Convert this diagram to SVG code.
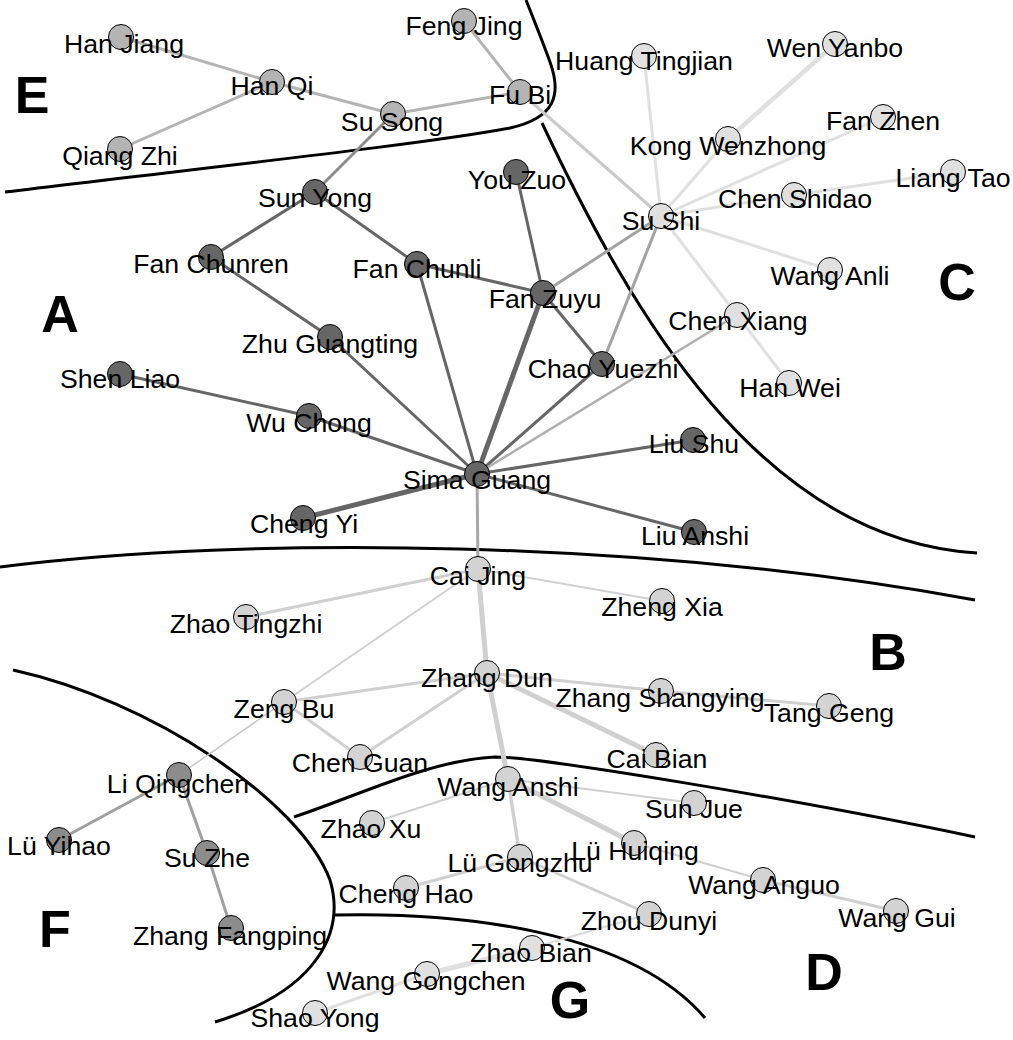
<svg xmlns="http://www.w3.org/2000/svg" width="1013" height="1040" viewBox="0 0 1013 1040">
<style>
text{font-family:"Liberation Sans",Arial,sans-serif;font-size:26.67px;fill:#000;text-anchor:middle}
.big{font-size:52px;font-weight:bold}
circle{stroke:#000;stroke-width:1}
.nA{fill:#666666}.nE{fill:#b4b4b4}.nC{fill:#e0e0e0}.nB{fill:#d3d3d3}.nF{fill:#8c8c8c}.nG{fill:#e0e0e0}
.bd{fill:none;stroke:#000;stroke-width:3}
#edges line{stroke-linecap:round}
.eA{stroke:#666666;stroke-width:3}.eE{stroke:#b4b4b4;stroke-width:3}.eC{stroke:#e0e0e0;stroke-width:3}
.eB{stroke:#d0d0d0;stroke-width:3}.eF{stroke:#a0a0a0;stroke-width:3}.eX{stroke:#a3a3a3;stroke-width:3}
.thick{stroke-width:5}.thin{stroke-width:2}
</style>
<rect width="1013" height="1040" fill="#fff"/>
<g id="boundaries">
<path class="bd" d="M5,192 C200,168 420,145 510,128 C555,118 562,95 550,62 C542,40 532,15 526,0"/>
<path class="bd" d="M542,123 C630,310 760,540 977,553"/>
<path class="bd" d="M0,567 C250,535 650,540 975,600"/>
<path class="bd" d="M13,670 C150,700 300,800 330,880 C345,930 320,990 215,1022"/>
<path class="bd" d="M294,817 C360,795 430,760 495,757 C540,757 800,800 975,837"/>
<path class="bd" d="M335,915 C460,912 630,930 705,1018"/>
</g>
<g id="regions">
<text class="big" x="32" y="113">E</text>
<text class="big" x="60" y="332">A</text>
<text class="big" x="957" y="300">C</text>
<text class="big" x="888" y="670">B</text>
<text class="big" x="824" y="990">D</text>
<text class="big" x="55" y="947">F</text>
<text class="big" x="570" y="1018">G</text>
</g>
<g id="edges">
<line class="eE" x1="121" y1="37" x2="272" y2="82"/>
<line class="eE" x1="120" y1="149" x2="272" y2="82"/>
<line class="eE" x1="272" y1="82" x2="393" y2="114"/>
<line class="eE" x1="393" y1="114" x2="520" y2="92"/>
<line class="eE" x1="464" y1="21" x2="520" y2="92"/>
<line style="stroke:#8c8c8c;stroke-width:3" x1="393" y1="114" x2="315" y2="192"/>
<line style="stroke:#cacaca;stroke-width:3" x1="520" y1="92" x2="661" y2="216"/>
<line class="eA" x1="315" y1="192" x2="211" y2="257"/>
<line class="eA" x1="315" y1="192" x2="417" y2="264"/>
<line class="eA" x1="211" y1="257" x2="330" y2="337"/>
<line class="eA" x1="330" y1="337" x2="477" y2="474"/>
<line class="eA" x1="417" y1="264" x2="477" y2="474"/>
<line class="eA" x1="417" y1="264" x2="543" y2="293"/>
<line class="eA" x1="516" y1="172" x2="543" y2="293"/>
<line class="eA thick" x1="543" y1="293" x2="477" y2="474"/>
<line class="eA" x1="543" y1="293" x2="602" y2="364"/>
<line class="eA" x1="602" y1="364" x2="477" y2="474"/>
<line class="eA" x1="120" y1="374" x2="309" y2="416"/>
<line class="eA" x1="309" y1="416" x2="477" y2="474"/>
<line class="eA thick" x1="303" y1="518" x2="477" y2="474"/>
<line class="eA" x1="693" y1="440" x2="477" y2="474"/>
<line class="eA" x1="694" y1="532" x2="477" y2="474"/>
<line class="eX" x1="543" y1="293" x2="661" y2="216"/>
<line class="eX" x1="602" y1="364" x2="661" y2="216"/>
<line class="eX" style="stroke:#b0b0b0;stroke-width:2.5" x1="477" y1="474" x2="737" y2="315"/>
<line style="stroke:#a8a8a8;stroke-width:3" x1="477" y1="474" x2="478" y2="569"/>
<line class="eC" x1="661" y1="216" x2="644" y2="56"/>
<line class="eC" x1="661" y1="216" x2="728" y2="139"/>
<line class="eC" style="stroke-width:4.5" x1="728" y1="139" x2="835" y2="44"/>
<line class="eC" x1="661" y1="216" x2="883" y2="117"/>
<line class="eC" x1="661" y1="216" x2="794" y2="195"/>
<line class="eC" x1="794" y1="195" x2="953" y2="172"/>
<line class="eC" x1="661" y1="216" x2="830" y2="270"/>
<line class="eC" x1="661" y1="216" x2="737" y2="315"/>
<line class="eC" x1="737" y1="315" x2="789" y2="383"/>
<line class="eB" x1="478" y1="569" x2="246" y2="617"/>
<line class="eB thin" x1="478" y1="569" x2="662" y2="601"/>
<line class="eB thin" x1="478" y1="569" x2="284" y2="702"/>
<line class="eB thick" x1="478" y1="569" x2="487" y2="673"/>
<line class="eB thick" x1="487" y1="673" x2="508" y2="779"/>
<line class="eB" style="stroke-width:3.5" x1="508" y1="779" x2="520" y2="857"/>
<line class="eB" x1="487" y1="673" x2="284" y2="702"/>
<line class="eB" x1="487" y1="673" x2="360" y2="757"/>
<line class="eB" x1="284" y1="702" x2="360" y2="757"/>
<line class="eB" x1="487" y1="673" x2="661" y2="691"/>
<line class="eB" x1="661" y1="691" x2="829" y2="706"/>
<line class="eB thick" x1="487" y1="673" x2="656" y2="755"/>
<line style="stroke:#c8c8c8;stroke-width:1.5" x1="284" y1="702" x2="179" y2="775"/>
<line class="eB thin" x1="508" y1="779" x2="372" y2="823"/>
<line class="eB thin" x1="508" y1="779" x2="694" y2="803"/>
<line class="eB thick" x1="508" y1="779" x2="634" y2="843"/>
<line class="eB thin" x1="634" y1="843" x2="763" y2="880"/>
<line class="eB" x1="763" y1="880" x2="896" y2="911"/>
<line class="eB" x1="520" y1="857" x2="406" y2="888"/>
<line class="eB" x1="520" y1="857" x2="649" y2="914"/>
<line class="eF" x1="179" y1="775" x2="59" y2="840"/>
<line class="eF" x1="179" y1="775" x2="207" y2="853"/>
<line class="eF" x1="207" y1="853" x2="231" y2="928"/>
<line class="eC thin" style="stroke:#d8d8d8" x1="649" y1="914" x2="532" y2="948"/>
<line class="eC thick" x1="532" y1="948" x2="427" y2="974"/>
<line class="eC" x1="427" y1="974" x2="315" y2="1013"/>
</g>
<g id="nodes">
<g id="han-jiang"><circle class="nE" cx="121" cy="37" r="12.5"/><text x="124" y="53">Han Jiang</text></g>
<g id="han-qi"><circle class="nE" cx="272" cy="82" r="12.5"/><text x="272" y="95">Han Qi</text></g>
<g id="su-song"><circle class="nE" cx="393" cy="114" r="12.5"/><text x="392" y="131">Su Song</text></g>
<g id="qiang-zhi"><circle class="nE" cx="120" cy="149" r="12.5"/><text x="120" y="165">Qiang Zhi</text></g>
<g id="feng-jing"><circle class="nE" cx="464" cy="21" r="12.5"/><text x="464" y="35">Feng Jing</text></g>
<g id="fu-bi"><circle class="nE" cx="520" cy="92" r="12.5"/><text x="520" y="104">Fu Bi</text></g>
<g id="sun-yong"><circle class="nA" cx="315" cy="192" r="12.5"/><text x="315" y="207">Sun Yong</text></g>
<g id="fan-chunren"><circle class="nA" cx="211" cy="257" r="12.5"/><text x="211" y="273">Fan Chunren</text></g>
<g id="fan-chunli"><circle class="nA" cx="417" cy="264" r="12.5"/><text x="417" y="278">Fan Chunli</text></g>
<g id="you-zuo"><circle class="nA" cx="516" cy="172" r="12.5"/><text x="517" y="189">You Zuo</text></g>
<g id="fan-zuyu"><circle class="nA" cx="543" cy="293" r="12.5"/><text x="545" y="308">Fan Zuyu</text></g>
<g id="zhu-guangting"><circle class="nA" cx="330" cy="337" r="12.5"/><text x="330" y="353">Zhu Guangting</text></g>
<g id="chao-yuezhi"><circle class="nA" cx="602" cy="364" r="12.5"/><text x="603" y="378">Chao Yuezhi</text></g>
<g id="shen-liao"><circle class="nA" cx="120" cy="374" r="12.5"/><text x="120" y="388">Shen Liao</text></g>
<g id="wu-chong"><circle class="nA" cx="309" cy="416" r="12.5"/><text x="309" y="432">Wu Chong</text></g>
<g id="liu-shu"><circle class="nA" cx="693" cy="440" r="12.5"/><text x="694" y="453">Liu Shu</text></g>
<g id="sima-guang"><circle class="nA" cx="477" cy="474" r="12.5"/><text x="477" y="489">Sima Guang</text></g>
<g id="cheng-yi"><circle class="nA" cx="303" cy="518" r="12.5"/><text x="304" y="533">Cheng Yi</text></g>
<g id="liu-anshi"><circle class="nA" cx="694" cy="532" r="12.5"/><text x="695" y="545">Liu Anshi</text></g>
<g id="huang-tingjian"><circle class="nC" cx="644" cy="56" r="12.5"/><text x="644" y="70">Huang Tingjian</text></g>
<g id="wen-yanbo"><circle class="nC" cx="835" cy="44" r="12.5"/><text x="835" y="57">Wen Yanbo</text></g>
<g id="fan-zhen"><circle class="nC" cx="883" cy="117" r="12.5"/><text x="883" y="130">Fan Zhen</text></g>
<g id="kong-wenzhong"><circle class="nC" cx="728" cy="139" r="12.5"/><text x="728" y="155">Kong Wenzhong</text></g>
<g id="liang-tao"><circle class="nC" cx="953" cy="172" r="12.5"/><text x="953" y="187">Liang Tao</text></g>
<g id="chen-shidao"><circle class="nC" cx="794" cy="195" r="12.5"/><text x="795" y="208">Chen Shidao</text></g>
<g id="su-shi"><circle class="nC" cx="661" cy="216" r="12.5"/><text x="661" y="230">Su Shi</text></g>
<g id="wang-anli"><circle class="nC" cx="830" cy="270" r="12.5"/><text x="830" y="285">Wang Anli</text></g>
<g id="chen-xiang"><circle class="nC" cx="737" cy="315" r="12.5"/><text x="738" y="330">Chen Xiang</text></g>
<g id="han-wei"><circle class="nC" cx="789" cy="383" r="12.5"/><text x="790" y="397">Han Wei</text></g>
<g id="cai-jing"><circle class="nB" cx="478" cy="569" r="12.5"/><text x="478" y="585">Cai Jing</text></g>
<g id="zhao-tingzhi"><circle class="nB" cx="246" cy="617" r="12.5"/><text x="246" y="633">Zhao Tingzhi</text></g>
<g id="zheng-xia"><circle class="nB" cx="662" cy="601" r="12.5"/><text x="662" y="616">Zheng Xia</text></g>
<g id="zhang-dun"><circle class="nB" cx="487" cy="673" r="12.5"/><text x="487" y="687">Zhang Dun</text></g>
<g id="zeng-bu"><circle class="nB" cx="284" cy="702" r="12.5"/><text x="284" y="718">Zeng Bu</text></g>
<g id="zhang-shangying"><circle class="nB" cx="661" cy="691" r="12.5"/><text x="660" y="707">Zhang Shangying</text></g>
<g id="tang-geng"><circle class="nB" cx="829" cy="706" r="12.5"/><text x="829" y="722">Tang Geng</text></g>
<g id="chen-guan"><circle class="nB" cx="360" cy="757" r="12.5"/><text x="360" y="772">Chen Guan</text></g>
<g id="cai-bian"><circle class="nB" cx="656" cy="755" r="12.5"/><text x="657" y="768">Cai Bian</text></g>
<g id="li-qingchen"><circle class="nF" cx="179" cy="775" r="12.5"/><text x="178" y="793">Li Qingchen</text></g>
<g id="lu-yihao"><circle class="nF" cx="59" cy="840" r="12.5"/><text x="59" y="855">Lü Yihao</text></g>
<g id="su-zhe"><circle class="nF" cx="207" cy="853" r="12.5"/><text x="207" y="867">Su Zhe</text></g>
<g id="zhang-fangping"><circle class="nF" cx="231" cy="928" r="12.5"/><text x="230" y="945">Zhang Fangping</text></g>
<g id="wang-anshi"><circle class="nB" cx="508" cy="779" r="12.5"/><text x="508" y="796">Wang Anshi</text></g>
<g id="zhao-xu"><circle class="nB" cx="372" cy="823" r="12.5"/><text x="371" y="838">Zhao Xu</text></g>
<g id="sun-jue"><circle class="nB" cx="694" cy="803" r="12.5"/><text x="694" y="818">Sun Jue</text></g>
<g id="lu-gongzhu"><circle class="nB" cx="520" cy="857" r="12.5"/><text x="520" y="872">Lü Gongzhu</text></g>
<g id="lu-huiqing"><circle class="nB" cx="634" cy="843" r="12.5"/><text x="635" y="860">Lü Huiqing</text></g>
<g id="cheng-hao"><circle class="nB" cx="406" cy="888" r="12.5"/><text x="406" y="903">Cheng Hao</text></g>
<g id="wang-anguo"><circle class="nB" cx="763" cy="880" r="12.5"/><text x="764" y="894">Wang Anguo</text></g>
<g id="zhou-dunyi"><circle class="nB" cx="649" cy="914" r="12.5"/><text x="649" y="930">Zhou Dunyi</text></g>
<g id="wang-gui"><circle class="nB" cx="896" cy="911" r="12.5"/><text x="897" y="927">Wang Gui</text></g>
<g id="zhao-bian"><circle class="nG" cx="532" cy="948" r="12.5"/><text x="531" y="962">Zhao Bian</text></g>
<g id="wang-gongchen"><circle class="nG" cx="427" cy="974" r="12.5"/><text x="426" y="990">Wang Gongchen</text></g>
<g id="shao-yong"><circle class="nG" cx="315" cy="1013" r="12.5"/><text x="315" y="1027">Shao Yong</text></g>
</g>
</svg>
